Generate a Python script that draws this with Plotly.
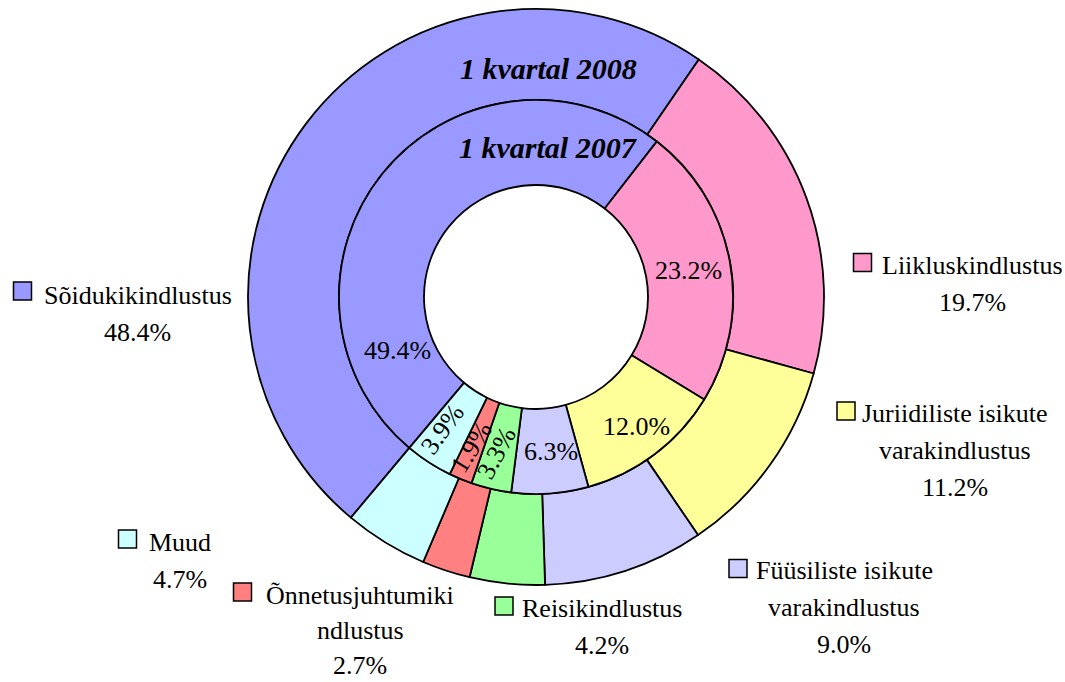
import plotly.graph_objects as go

# ---------------- data ----------------
categories = ["Sõidukikindlustus", "Liikluskindlustus",
              "Juriidiliste isikute varakindlustus",
              "Füüsiliste isikute varakindlustus", "Reisikindlustus",
              "Õnnetusjuhtumikindlustus", "Muud"]
share_2008 = [48.4, 19.7, 11.2, 9.0, 4.2, 2.7, 4.7]   # outer ring
share_2007 = [49.4, 23.2, 12.0, 6.3, 3.3, 1.9, 3.9]   # inner ring
series_names = ["1 kvartal 2008", "1 kvartal 2007"]

# ---------------- styles / layout ----------------
colors = ["#9999FF", "#FF99CC", "#FFFF99", "#CCCCFF", "#99FF99", "#FF8080", "#CCFFFF"]
W, H = 1065, 682
FONT = "Liberation Serif"
CX, CY = 536, 297          # ring centre (px)
R_OUT, R_MID, R_HOLE = 288, 197, 112
START_ANGLE = 220          # first slice start, clockwise from 12 o'clock

# outer label positions: text centre x, first line y, line step, key square centre (px)
outer_label_pos = [(137.5, 295, 37.3, 22.5, 291), (972, 265, 37.3, 862.5, 262.5),
                   (955, 413, 37.3, 846, 411), (844, 570, 37.3, 738, 568.5),
                   (602, 608, 37.3, 504, 606), (360, 595, 35.0, 242.5, 592),
                   (179.5, 542, 37.3, 127.5, 539)]
KEY = 18
# inner label positions (px) and rotation
inner_label_pos = [(397, 350, 0), (688, 270, 0), (636, 426, 0), (551, 451, 0),
                   (496, 453, -62), (471, 447, -58), (442, 429, -54)]
title_pos = [(548, 68), (548, 147)]


def px(x):
    return x / W


def py(y):
    return 1 - y / H


def wrap(name):
    if " " in name:
        a, b = name.rsplit(" ", 1)
        return [a, b]
    if len(name) > 17:
        return [name[:16], name[16:]]
    return [name]


def dom(r):
    return dict(x=[px(CX - r), px(CX + r)], y=[py(CY + r), py(CY - r)])


fig = go.Figure()
fig.add_trace(go.Pie(
    labels=categories, values=share_2008, name=series_names[0],
    domain=dom(R_OUT), hole=R_MID / R_OUT, sort=False, direction="clockwise",
    rotation=START_ANGLE, textinfo="none",
    marker=dict(colors=colors, line=dict(color="black", width=1.8))))
fig.add_trace(go.Pie(
    labels=categories, values=share_2007, name=series_names[1],
    domain=dom(R_MID), hole=R_HOLE / R_MID, sort=False, direction="clockwise",
    rotation=START_ANGLE, textinfo="none",
    marker=dict(colors=colors, line=dict(color="black", width=1.8))))

annotations = []
shapes = []
for name, val, col, (tx, ty, step, kx, ky) in zip(categories, share_2008, colors, outer_label_pos):
    lines = wrap(name) + [f"{val:.1f}%"]
    for i, ln in enumerate(lines):
        annotations.append(dict(x=px(tx), y=py(ty + i * step), xref="paper", yref="paper",
                                text=ln, showarrow=False, xanchor="center", yanchor="middle",
                                font=dict(family=FONT, size=26, color="black")))
    shapes.append(dict(type="rect", xref="paper", yref="paper",
                       x0=px(kx - KEY / 2), x1=px(kx + KEY / 2),
                       y0=py(ky + KEY / 2), y1=py(ky - KEY / 2),
                       fillcolor=col, line=dict(color="black", width=1.5)))

for val, (tx, ty, ang) in zip(share_2007, inner_label_pos):
    annotations.append(dict(x=px(tx), y=py(ty), xref="paper", yref="paper",
                            text=f"{val:.1f}%", showarrow=False, textangle=ang,
                            xanchor="center", yanchor="middle",
                            font=dict(family=FONT, size=26, color="black")))

for name, (tx, ty) in zip(series_names, title_pos):
    annotations.append(dict(x=px(tx), y=py(ty), xref="paper", yref="paper",
                            text=f"<b><i>{name}</i></b>", showarrow=False,
                            xanchor="center", yanchor="middle",
                            font=dict(family=FONT, size=30, color="black")))

fig.update_layout(width=W, height=H, margin=dict(l=0, r=0, t=0, b=0),
                  paper_bgcolor="white", plot_bgcolor="white", showlegend=False,
                  annotations=annotations, shapes=shapes)

fig.write_html("out.html", config={"displayModeBar": False},
               post_script="document.body.style.margin='0';document.body.style.overflow='hidden';")
